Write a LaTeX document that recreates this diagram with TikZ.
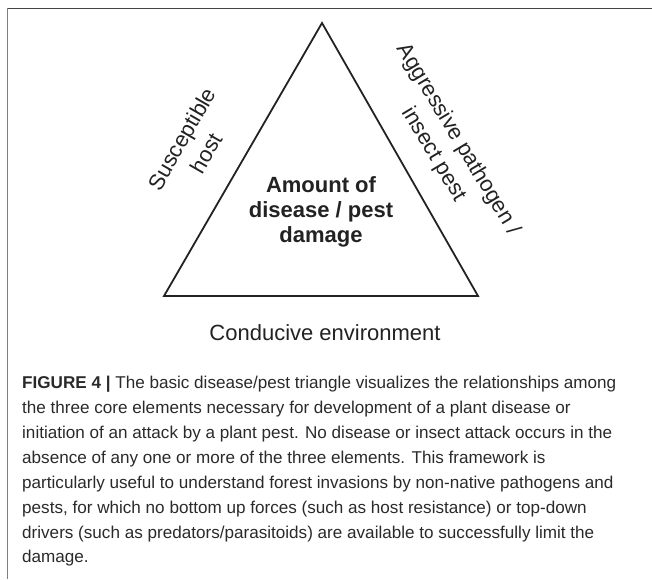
\documentclass[tikz,border=0pt]{standalone}
\usepackage{fontspec}
\setmainfont{Liberation Sans}
\definecolor{inkblack}{HTML}{222222}
\definecolor{topgray}{HTML}{444444}
\definecolor{sidegray}{HTML}{808080}
\definecolor{captiongray}{HTML}{2A2A2A}
\begin{document}
\begin{tikzpicture}[x=1pt,y=-1pt,
    label text/.style={font=\fontsize{22}{26}\selectfont, align=center, text=inkblack, inner sep=0pt},
    side text/.style={font=\fontsize{22}{28.5}\selectfont, align=center, text=inkblack, inner sep=0pt},
    centre text/.style={font=\bfseries\fontsize{22}{25}\selectfont, align=center, text=inkblack, inner sep=0pt},
    caption text/.style={font=\fontsize{17.1}{24.9}\selectfont, align=left, text=captiongray, inner sep=0pt}
  ]
  \useasboundingbox (0,0) rectangle (652,579);

  % Frame: dark rule on top, lighter rule on the left
  \draw[topgray, line width=1.5pt] (7,8.5) -- (652,8.5);
  \draw[sidegray, line width=1.5pt] (7.5,8) -- (7.5,579);

  % The disease / pest triangle
  \coordinate (apex) at (322,23);
  \coordinate (left) at (164,296);
  \coordinate (right) at (478,296);
  \draw[inkblack, line width=1.8pt] (apex) -- (left) -- (right) -- cycle;

  % Labels along the two sides
  \node[side text, rotate=60] (host) at (194,146) {Susceptible\\host};
  \node[side text, rotate=-59] (pathogen) at (446,147) {Aggressive pathogen /\\insect pest};

  % Label inside the triangle
  \node[centre text] (damage) at (321,212) {Amount of\\disease / pest\\damage};

  % Label below the base
  \node[label text] (environment) at (325,333) {Conducive environment};

  % Figure caption
  \node[caption text, anchor=north west] (caption) at (22,376) {%
    \textbf{FIGURE 4 |} The basic disease/pest triangle visualizes the relationships among\\
    the three core elements necessary for development of a plant disease or\\
    initiation of an attack by a plant pest. No disease or insect attack occurs in the\\
    absence of any one or more of the three elements. This framework is\\
    particularly useful to understand forest invasions by non-native pathogens and\\
    pests, for which no bottom up forces (such as host resistance) or top-down\\
    drivers (such as predators/parasitoids) are available to successfully limit the\\
    damage.};
\end{tikzpicture}
\end{document}
